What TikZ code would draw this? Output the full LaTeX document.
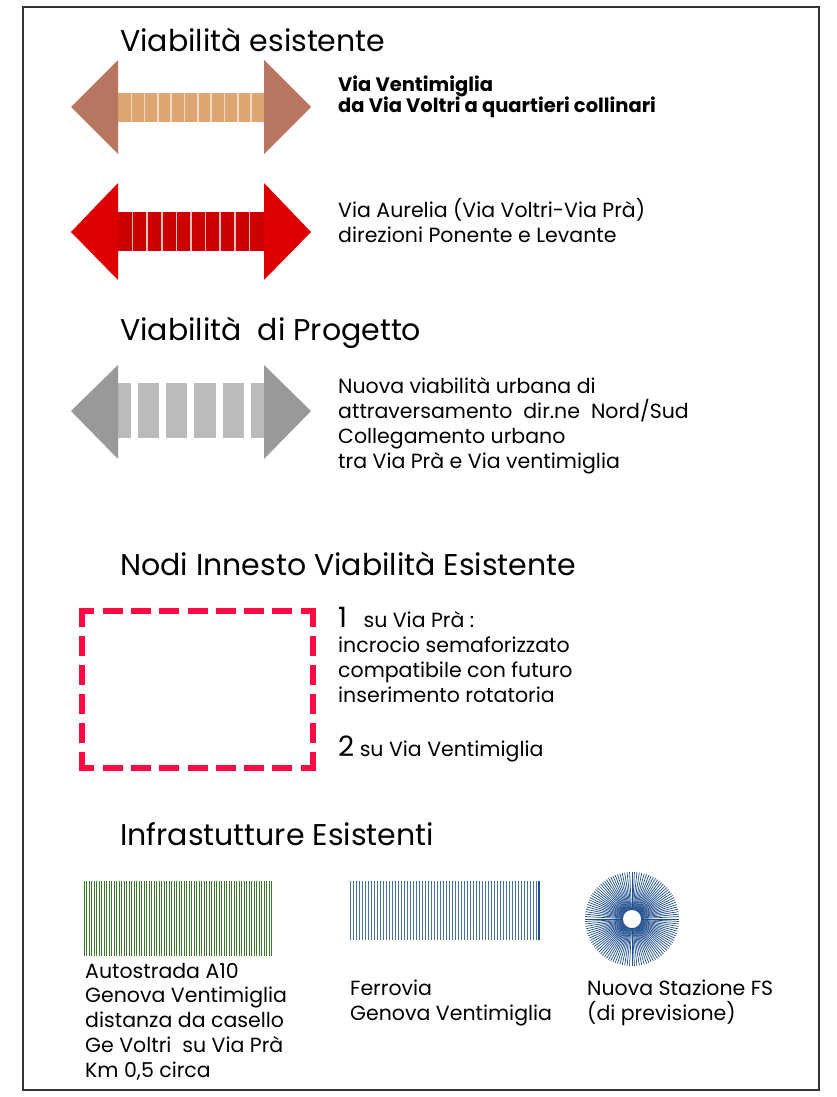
\documentclass[tikz,border=0pt]{standalone}
\usepackage{fontspec}
\setmainfont{Poppins}
\definecolor{brownhead}{HTML}{B87560}
\definecolor{brownbar}{HTML}{DDA670}
\definecolor{redhead}{HTML}{DD0000}
\definecolor{redbar}{HTML}{CC0000}
\definecolor{greyhead}{HTML}{999999}
\definecolor{greybar}{HTML}{BBBBBB}
\definecolor{nodered}{HTML}{FF0A45}
\definecolor{fsblue}{HTML}{1F4E8C}
\definecolor{asgreen}{HTML}{3A7A2A}
\tikzset{
	title/.style={anchor=base west,inner sep=0pt,font=\fontsize{30}{34}\selectfont},
	legend/.style={anchor=base west,inner sep=0pt,align=left,font=\fontsize{20.5}{24.7}\selectfont},
	nodebox/.style={nodered,line width=6pt}
}
\begin{document}
\begin{tikzpicture}[>=stealth,x=1pt,y=-1pt]
		\useasboundingbox (0,0) rectangle (836,1097);
		\draw[line width=2pt,color=black!80] (23,7) rectangle (819,1090);
		% viabilita esistente
		\node[title] (t-esist) at (120,52) {Viabilità esistente};
		\fill[brownbar] (118,93) rectangle (264,122);
		\foreach \i in {1,...,10}
			\draw[white!60!brownbar,line width=1.6pt] ({118+\i*13.3},93) -- ++(0,29);
		\fill[brownhead] (118,60) -- (71,107) -- (118,154) -- cycle;
		\fill[brownhead] (264,60) -- (311,107) -- (264,154) -- cycle;
		% (multi-line nodes: base is the last line)
		\node[legend,font=\fontsize{19.5}{20}\selectfont\bfseries] (l-ventimiglia) at (338,113) {Via Ventimiglia\\da Via Voltri a quartieri collinari};
		\fill[redbar] (118,212) rectangle (264,251);
		\foreach \i in {1,...,9}
			\draw[white!75!redbar,line width=1.6pt] ({118+\i*14.6},212) -- ++(0,39);
		\fill[redhead] (118,183) -- (71,232) -- (118,280) -- cycle;
		\fill[redhead] (264,183) -- (311,232) -- (264,280) -- cycle;
		\node[legend] (l-aurelia) at (338,242) {Via Aurelia (Via Voltri-Via Prà)\\direzioni Ponente e Levante};
		% viabilita di progetto
		\node[title] (t-prog) at (120,340) {Viabilità~ di Progetto};
		\fill[greybar] (118,383) rectangle (264,438);
		\foreach \i in {0,...,4}
			\fill[white] ({131+\i*28.2},383) rectangle ++(7,55);
		\fill[greyhead] (118,365) -- (71,411) -- (118,459) -- cycle;
		\fill[greyhead] (264,365) -- (311,411) -- (264,459) -- cycle;
		\node[legend] (l-nuova) at (338,468) {Nuova viabilità urbana di\\attraversamento~ dir.ne~ Nord/Sud\\Collegamento urbano\\tra Via Prà e Via ventimiglia};
		% nodi
		\node[title] (t-nodi) at (120,575) {Nodi Innesto Viabilità Esistente};
		\draw[nodebox,dash pattern=on 20pt off 8.3pt,dash phase=4.7pt] (79,611) -- (316,611) (79,768) -- (316,768);
		\draw[nodebox,dash pattern=on 20pt off 9pt,dash phase=1pt] (82,608) -- (82,771) (313,608) -- (313,771);
		\node[legend] (n-uno) at (338,702) {{\fontsize{28}{24}\selectfont 1}~~ su Via Prà :\\incrocio semaforizzato\\compatibile con futuro\\inserimento rotatoria};
		\node[legend] (n-due) at (338,756) {{\fontsize{28}{24}\selectfont 2} su Via Ventimiglia};
		% infrastrutture
		\node[title] (t-infra) at (120,845) {Infrastutture Esistenti};
		\foreach \i in {0,...,75}
			\draw[asgreen,line width=0.8pt] ({84+2.5*\i},881) -- ++(0,75);
		\node[legend] (l-autostrada) at (85,1077) {Autostrada A10\\Genova Ventimiglia\\distanza da casello\\Ge Voltri~ su Via Prà\\Km 0,5 circa};
		\foreach \i in {0,...,62}
			\draw[fsblue!80,line width=1pt] ({350+3*\i},881) -- ++(0,59);
		\draw[fsblue,line width=2pt] (539,881) -- ++(0,59);
		\node[legend] (l-ferrovia) at (350,1020) {Ferrovia\\Genova Ventimiglia};
		\begin{scope}[shift={(632,919)}]
			\foreach \a in {0,3,...,357}
				\draw[fsblue,line width=0.7pt] (\a:8) -- (\a:47);
			\fill[white] (0,0) circle (9);
		\end{scope}
		\node[legend] (l-stazione) at (587,1020) {Nuova Stazione FS\\(di previsione)};
\end{tikzpicture}
\end{document}
